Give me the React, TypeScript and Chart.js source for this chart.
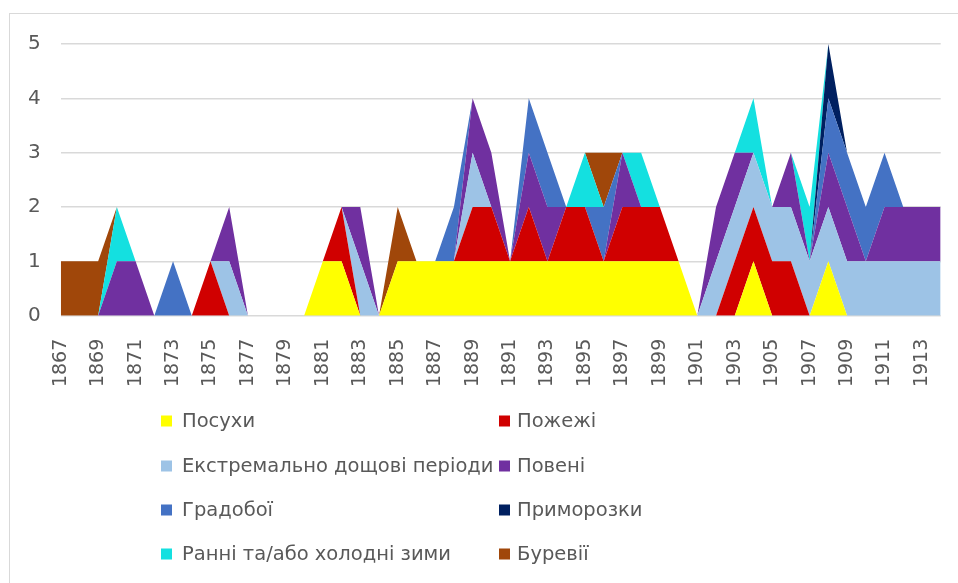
import React, { useEffect, useRef } from "react";
import { Chart, registerables } from "chart.js";

Chart.register(...registerables);

const years: string[] = [
  "1867","1868","1869","1870","1871","1872","1873","1874","1875","1876",
  "1877","1878","1879","1880","1881","1882","1883","1884","1885","1886",
  "1887","1888","1889","1890","1891","1892","1893","1894","1895","1896",
  "1897","1898","1899","1900","1901","1902","1903","1904","1905","1906",
  "1907","1908","1909","1910","1911","1912","1913","1914",
];

// 1867 ... 1914
const droughts = [0,0,0,0,0,0,0,0,0,0, 0,0,0,0,1,1,0,0,1,1, 1,1,1,1,1,1,1,1,1,1, 1,1,1,1,0,0,0,1,0,0, 0,1,0,0,0,0,0,0];
const fires =    [0,0,0,0,0,0,0,0,1,0, 0,0,0,0,0,1,0,0,0,0, 0,0,1,1,0,1,0,1,1,0, 1,1,1,0,0,0,1,1,1,1, 0,0,0,0,0,0,0,0];
const rains =    [0,0,0,0,0,0,0,0,0,1, 0,0,0,0,0,0,1,0,0,0, 0,0,1,0,0,0,0,0,0,0, 0,0,0,0,0,1,1,1,1,1, 1,1,1,1,1,1,1,1];
const floods =   [0,0,0,1,1,0,0,0,0,1, 0,0,0,0,0,0,1,0,0,0, 0,0,1,1,0,1,1,0,0,0, 1,0,0,0,0,1,1,0,0,1, 0,1,1,0,1,1,1,1];
const hail =     [0,0,0,0,0,0,1,0,0,0, 0,0,0,0,0,0,0,0,0,0, 0,1,0,0,0,1,1,0,0,1, 0,0,0,0,0,0,0,0,0,0, 0,1,1,1,1,0,0,0];
const frosts =   [0,0,0,0,0,0,0,0,0,0, 0,0,0,0,0,0,0,0,0,0, 0,0,0,0,0,0,0,0,0,0, 0,0,0,0,0,0,0,0,0,0, 0,1,0,0,0,0,0,0];
const winters =  [0,0,0,1,0,0,0,0,0,0, 0,0,0,0,0,0,0,0,0,0, 0,0,0,0,0,0,0,0,1,0, 0,1,0,0,0,0,0,1,0,0, 1,0,0,0,0,0,0,0];
const storms =   [1,1,1,0,0,0,0,0,0,0, 0,0,0,0,0,0,0,0,1,0, 0,0,0,0,0,0,0,0,0,1, 0,0,0,0,0,0,0,0,0,0, 0,0,0,0,0,0,0,0];

const seriesNames = [
  "Посухи",
  "Пожежі",
  "Екстремально дощові періоди",
  "Повені",
  "Градобої",
  "Приморозки",
  "Ранні та/або холодні зими",
  "Буревії",
];
const seriesValues = [droughts, fires, rains, floods, hail, frosts, winters, storms];
const seriesColors = ["#FFFF00", "#D00000", "#9DC3E6", "#7030A0", "#4472C4", "#002060", "#14E0E0", "#A0470A"];

const yTicks = [0, 1, 2, 3, 4, 5];

const TEXT = "#595959";
const FONT = "'DejaVu Sans', sans-serif";

const legendPlugin = {
  id: "twoColLegend",
  afterDraw(chart: any) {
    const ctx = chart.ctx;
    const colX = [161, 499];
    const textX = [182, 517];
    const rowY = [421, 466, 510, 554];
    ctx.save();
    ctx.font = `19.5px ${FONT}`;
    ctx.textBaseline = "middle";
    ctx.textAlign = "left";
    chart.data.datasets.forEach((ds: any, i: number) => {
      const c = i % 2;
      const r = Math.floor(i / 2);
      ctx.fillStyle = ds.backgroundColor;
      ctx.fillRect(colX[c], rowY[r] - 5.5, 11, 11);
      ctx.fillStyle = TEXT;
      ctx.fillText(ds.label, textX[c], rowY[r] + 1);
    });
    ctx.restore();
  },
};

export default function App() {
  const ref = useRef<HTMLCanvasElement | null>(null);

  useEffect(() => {
    if (!ref.current) return;
    const chart = new Chart(ref.current, {
      type: "line",
      data: {
        labels: years,
        datasets: seriesNames.map((name, i) => ({
          label: name,
          data: seriesValues[i],
          backgroundColor: seriesColors[i],
          borderColor: "rgba(0,0,0,0)",
          borderWidth: 0,
          pointRadius: 0,
          pointHoverRadius: 0,
          tension: 0,
          fill: i === 0 ? "origin" : "-1",
        })),
      },
      options: {
        animation: false,
        responsive: false,
        maintainAspectRatio: false,
        events: [],
        layout: { padding: { left: 0, right: 17.3, top: 44, bottom: 187.3 } },
        plugins: {
          legend: { display: false },
          tooltip: { enabled: false },
          filler: { propagate: false },
        },
        scales: {
          x: {
            grid: { display: false },
            border: { display: false },
            afterFit: (s: any) => {
              s.height = 80;
              s.paddingLeft = 0;
              s.paddingRight = 0;
            },
            ticks: {
              autoSkip: false,
              minRotation: 90,
              maxRotation: 90,
              padding: 15,
              color: TEXT,
              font: { family: FONT, size: 19 },
              callback: (_v: any, i: number) => (i % 2 === 0 ? years[i] : ""),
            },
          },
          y: {
            stacked: true,
            min: yTicks[0],
            max: yTicks[yTicks.length - 1],
            afterFit: (s: any) => { s.width = 60.7; },
            afterBuildTicks: (s: any) => { s.ticks = yTicks.map((v) => ({ value: v })); },
            grid: { color: "#d9d9d9", lineWidth: 1.5, drawTicks: false },
            border: { display: false },
            ticks: {
              padding: 20,
              color: TEXT,
              font: { family: FONT, size: 20 },
            },
          },
        },
      },
      plugins: [legendPlugin],
    });
    return () => chart.destroy();
  }, []);

  return (
    <div style={{ position: "relative", width: 958, height: 583, overflow: "hidden", background: "#fff" }}>
      <style>{`body{margin:0}`}</style>
      <div
        style={{
          position: "absolute",
          left: 9,
          top: 13,
          width: 980,
          height: 600,
          border: "1.5px solid #d9d9d9",
        }}
      />
      <canvas ref={ref} width={958} height={583} style={{ position: "absolute", left: 0, top: 0 }} />
    </div>
  );
}
